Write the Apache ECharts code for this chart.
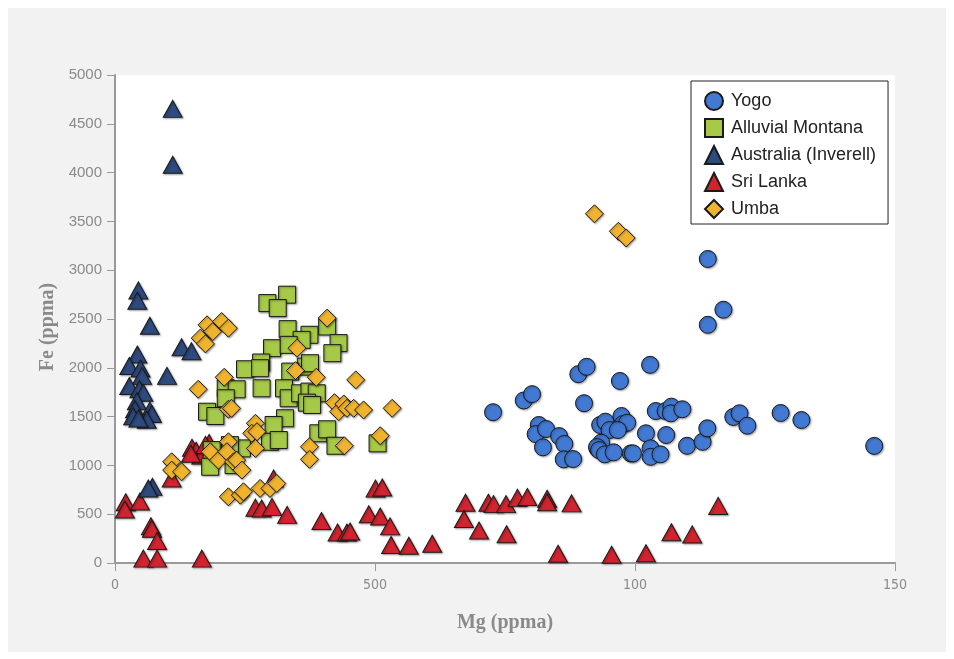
<!DOCTYPE html>
<html>
<head>
<meta charset="utf-8">
<script src="https://cdn.jsdelivr.net/npm/echarts@6/dist/echarts.min.js"></script>
<style>
html,body{margin:0;padding:0;background:#fff;}
#chart{width:954px;height:659px;}
</style>
</head>
<body>
<div id="chart"></div>
<script>
var seriesNames = ['Yogo', 'Alluvial Montana', 'Australia (Inverell)', 'Sri Lanka', 'Umba'];
var xTickLabels = ['0', '500', '100', '150'];
var yTickValues = [0, 500, 1000, 1500, 2000, 2500, 3000, 3500, 4000, 4500, 5000];

var yogo = [[146,1200],[114,3115],[117,2595],[114,2440],[72.7,1545],[78.6,1665],[80.2,1730],[89.1,1935],[90.7,2010],[97.1,1865],[102.9,2030],[90.2,1637],[81.5,1414],[80.9,1321],[82.9,1373],[82.3,1185],[85.4,1300],[86.4,1220],[86.3,1062],[88.1,1065],[93.3,1414],[94.3,1448],[95.1,1362],[92.8,1175],[93.5,1232],[92.7,1188],[93.1,1157],[94.2,1113],[95.9,1134],[97.4,1506],[97.7,1424],[98.5,1437],[96.7,1362],[99.2,1123],[99.6,1123],[102.1,1329],[103,1175],[103,1088],[104.9,1113],[106,1311],[104,1557],[105.9,1557],[107,1602],[106.9,1534],[109.1,1575],[110,1201],[113,1242],[113.9,1380],[118.9,1496],[120.1,1534],[121.6,1407],[128,1537],[132,1465]];

var alluvialMontana = [[29.3,2663],[33.1,2749],[31.3,2612],[33.2,2396],[37.4,2338],[35.9,2286],[40.8,2423],[43,2253],[41.8,2150],[30.2,2201],[33.4,2235],[28.1,2054],[25,1985],[27.9,1996],[36.7,2012],[33.7,1961],[37.5,2047],[21.3,1790],[23.4,1780],[28.2,1790],[32.5,1790],[21.3,1688],[33.4,1688],[35.6,1739],[37.4,1756],[38.8,1739],[36.9,1643],[37.9,1619],[17.7,1550],[19.3,1506],[32.7,1483],[30.5,1414],[29.8,1242],[31.5,1260],[39.1,1329],[40.8,1370],[42.4,1201],[50.5,1226],[24.4,1174],[22.1,1208],[18.6,1157],[18.3,986],[22.8,1003]];

var australia = [[11.1,4653],[11.1,4081],[4.5,2793],[4.3,2687],[6.7,2430],[12.8,2211],[14.7,2170],[4.3,2136],[2.75,2019],[4.9,1992],[5.2,1917],[10,1917],[2.75,1814],[4.7,1780],[5.45,1745],[4.2,1657],[3.85,1575],[6.7,1561],[7.1,1527],[3.5,1503],[6.1,1468],[4.5,1480],[7.2,780],[6.4,764]];

var sriLanka = [[2.06,623],[1.9,548],[4.8,630],[6.9,377],[7.1,350],[8.1,226],[5.45,45],[8.1,45],[16.7,45],[10.9,866],[14.8,1180],[15.6,1150],[16.6,1100],[18.1,1230],[17.4,1210],[14.6,1120],[27,567],[28.2,558],[30.5,866],[30.2,575],[33.1,493],[39.7,430],[42.8,313],[44.6,313],[45.2,322],[50.1,762],[51.4,774],[48.8,499],[51,476],[52.9,375],[53.1,184],[56.5,177],[61,197],[67.4,618],[67.1,450],[70,333],[71.8,618],[72.8,603],[75.2,603],[75.3,294],[77.4,667],[79.3,676],[83.1,658],[83.1,623],[87.8,611],[85.2,95],[95.5,84],[102.1,100],[107,315],[111,293],[116,585]];

var umba = [[17.7,2440],[18.8,2371],[20.5,2474],[21.8,2406],[16.4,2304],[17.4,2245],[40.8,2509],[35,2201],[21,1903],[16,1780],[34.7,1971],[38.7,1903],[46.3,1876],[21.8,1575],[22.4,1585],[42.2,1643],[43,1550],[44,1629],[44.6,1585],[45.9,1585],[47.8,1568],[53.3,1585],[27,1431],[26.3,1329],[27.3,1345],[21.8,1242],[27,1174],[18.3,1140],[19.9,1054],[21.5,1140],[22.8,1037],[23.4,1054],[24.4,952],[37.4,1191],[37.4,1062],[44.1,1201],[51,1304],[10.9,1037],[10.9,952],[12.8,934],[21.8,678],[24.1,695],[24.7,730],[27.9,764],[29.8,764],[31.1,815],[92.2,3578],[96.8,3399],[98.3,3330]];

var chart = echarts.init(document.getElementById('chart'), null, {renderer: 'canvas'});
var shadow = {shadowColor: 'rgba(0,0,0,0.35)', shadowBlur: 2, shadowOffsetX: 1, shadowOffsetY: 1};
function sty(color) {
  return Object.assign({color: color, borderColor: '#1a1a1a', borderWidth: 1, opacity: 1}, shadow);
}
var option = {
  backgroundColor: '#ffffff',
  animation: false,
  graphic: [{
    type: 'rect', z: -10, silent: true,
    shape: {x: 8, y: 8, width: 938, height: 644},
    style: {fill: '#f2f2f2'}
  }],
  grid: {left: 115, right: 59, top: 75, bottom: 96, show: true, backgroundColor: '#ffffff', borderWidth: 0},
  xAxis: {
    type: 'value', min: 0, max: 150, interval: 50,
    name: 'Mg (ppma)', nameLocation: 'middle', nameGap: 50,
    nameTextStyle: {fontFamily: 'Liberation Serif', fontWeight: 'bold', fontSize: 20, color: '#8a8a8a'},
    axisLine: {show: true, lineStyle: {color: '#9a9a9a', width: 2}},
    axisTick: {show: true, inside: false, length: 8, lineStyle: {color: '#9a9a9a', width: 1}},
    axisLabel: {fontFamily: "'DejaVu Sans Condensed', 'Liberation Sans Narrow', sans-serif", fontSize: 14, color: '#8a8a8a', margin: 15,
      formatter: function (v) { return xTickLabels[Math.round(v / 50)]; }},
    splitLine: {show: false}
  },
  yAxis: {
    type: 'value', min: 0, max: 5000, interval: 500,
    name: 'Fe (ppma)', nameLocation: 'middle', nameGap: 57, nameRotate: 90,
    nameTextStyle: {fontFamily: 'Liberation Serif', fontWeight: 'bold', fontSize: 20, color: '#8a8a8a', padding: [0, 16, 0, 0]},
    axisLine: {show: true, lineStyle: {color: '#9a9a9a', width: 2}},
    axisTick: {show: true, inside: false, length: 8, lineStyle: {color: '#9a9a9a', width: 1}},
    axisLabel: {fontFamily: 'Liberation Sans', fontSize: 15, color: '#8a8a8a', margin: 13,
      formatter: function (v) { return yTickValues.indexOf(v) >= 0 ? String(v) : ''; }},
    splitLine: {show: false}
  },
  legend: {
    orient: 'vertical', left: 691, top: 81,
    data: seriesNames,
    backgroundColor: '#ffffff', borderColor: '#222222', borderWidth: 1,
    padding: [10, 12, 5, 13],
    itemWidth: 18, itemHeight: 18, itemGap: 7,
    textStyle: {fontFamily: 'Liberation Sans', fontSize: 18, lineHeight: 18, color: '#222222', padding: [0, 0, 0, 3]}
  },
  series: [
    {name: 'Sri Lanka', type: 'scatter', data: sriLanka, symbol: 'triangle', symbolSize: [19, 17], itemStyle: sty('#d2232f'), z: 2},
    {name: 'Australia (Inverell)', type: 'scatter', data: australia, symbol: 'triangle', symbolSize: [19, 17], itemStyle: sty('#2f4a7e'), z: 3},
    {name: 'Yogo', type: 'scatter', data: yogo, symbol: 'circle', symbolSize: 17, itemStyle: sty('#4179d3'), z: 4},
    {name: 'Alluvial Montana', type: 'scatter', data: alluvialMontana, symbol: 'rect', symbolSize: 17, itemStyle: sty('#a6c947'), z: 5},
    {name: 'Umba', type: 'scatter', data: umba, symbol: 'diamond', symbolSize: 18, itemStyle: sty('#efb32e'), z: 6}
  ]
};
chart.setOption(option);
</script>
</body>
</html>
